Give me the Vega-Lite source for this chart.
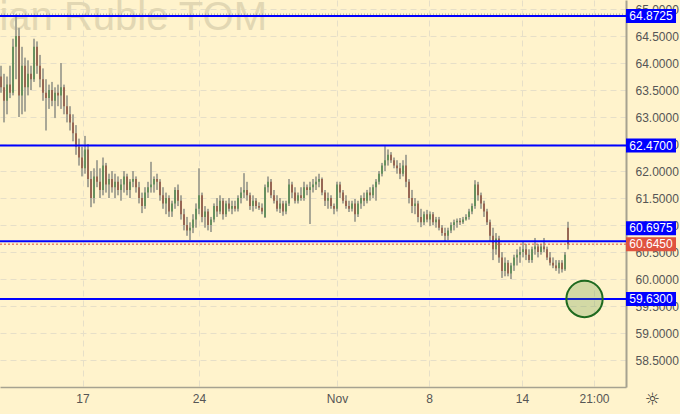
{
"$schema": "https://vega.github.io/schema/vega-lite/v6.json",
"width": 626, "height": 387,
"autosize": {"type": "none"},
"padding": {"left": 0, "top": 0, "right": 54, "bottom": 27},
"background": "#fff3cc",
"config": {
"view": {"stroke": null, "fill": "#fff3cc"},
"font": "Liberation Sans Narrow, Liberation Sans, sans-serif",
"axis": {"labelOverlap": false, "labelFlush": false, "grid": true, "gridColor": "#e6dfc8", "gridDash": [6, 4], "ticks": false, "domainColor": "#a6a290", "labelColor": "#555555", "labelFontSize": 12},
"axisX": {"domainWidth": 1.5, "labelPadding": 6},
"axisY": {"domainWidth": 2, "labelPadding": 9, "labelBaseline": "middle"}
},
"datasets": {
"bars": [
{"i":0,"o":63.75,"h":63.95,"l":63.45,"c":63.55},
{"i":1,"o":63.55,"h":63.8,"l":62.9,"c":63.3},
{"i":2,"o":63.3,"h":63.75,"l":63.05,"c":63.6},
{"i":3,"o":63.6,"h":63.95,"l":63.35,"c":63.45},
{"i":4,"o":63.45,"h":64.45,"l":63.4,"c":64.3},
{"i":5,"o":64.3,"h":64.9,"l":63.7,"c":64.5},
{"i":6,"o":64.5,"h":64.65,"l":63.0,"c":63.4},
{"i":7,"o":63.4,"h":64.3,"l":63.05,"c":63.95},
{"i":8,"o":63.95,"h":64.1,"l":63.1,"c":63.55},
{"i":9,"o":63.55,"h":64.05,"l":63.4,"c":63.8},
{"i":10,"o":63.8,"h":63.95,"l":63.5,"c":63.7},
{"i":11,"o":63.7,"h":64.45,"l":63.65,"c":64.3},
{"i":12,"o":64.3,"h":64.4,"l":63.8,"c":63.95},
{"i":13,"o":63.95,"h":64.15,"l":63.55,"c":63.7},
{"i":14,"o":63.7,"h":63.9,"l":63.3,"c":63.45},
{"i":15,"o":63.45,"h":63.7,"l":62.75,"c":63.35},
{"i":16,"o":63.35,"h":63.6,"l":63.15,"c":63.5},
{"i":17,"o":63.5,"h":63.65,"l":63.2,"c":63.3},
{"i":18,"o":63.3,"h":63.55,"l":62.98,"c":63.45},
{"i":19,"o":63.45,"h":63.6,"l":63.2,"c":63.4},
{"i":20,"o":63.4,"h":64.0,"l":63.15,"c":63.55},
{"i":21,"o":63.55,"h":63.6,"l":63.05,"c":63.2},
{"i":22,"o":63.2,"h":63.4,"l":62.9,"c":63.05},
{"i":23,"o":63.05,"h":63.2,"l":62.75,"c":62.9},
{"i":24,"o":62.9,"h":63.05,"l":62.55,"c":62.7},
{"i":25,"o":62.7,"h":62.85,"l":62.3,"c":62.45},
{"i":26,"o":62.45,"h":62.6,"l":62.1,"c":62.25},
{"i":27,"o":62.25,"h":62.45,"l":61.9,"c":62.05},
{"i":28,"o":62.05,"h":62.65,"l":61.95,"c":62.4},
{"i":29,"o":62.4,"h":62.5,"l":61.7,"c":61.85},
{"i":30,"o":61.85,"h":62.0,"l":61.33,"c":61.5},
{"i":31,"o":61.5,"h":62.05,"l":61.4,"c":61.9},
{"i":32,"o":61.9,"h":62.2,"l":61.7,"c":61.8},
{"i":33,"o":61.8,"h":62.05,"l":61.5,"c":61.65},
{"i":34,"o":61.65,"h":62.25,"l":61.55,"c":62.1},
{"i":35,"o":62.1,"h":62.15,"l":61.6,"c":61.75},
{"i":36,"o":61.75,"h":61.95,"l":61.5,"c":61.85},
{"i":37,"o":61.85,"h":62.0,"l":61.6,"c":61.7},
{"i":38,"o":61.7,"h":61.95,"l":61.5,"c":61.8},
{"i":39,"o":61.8,"h":61.9,"l":61.55,"c":61.65},
{"i":40,"o":61.65,"h":61.85,"l":61.45,"c":61.75},
{"i":41,"o":61.75,"h":62.0,"l":61.6,"c":61.9},
{"i":42,"o":61.9,"h":61.95,"l":61.55,"c":61.65},
{"i":43,"o":61.65,"h":61.85,"l":61.5,"c":61.8},
{"i":44,"o":61.8,"h":62.0,"l":61.7,"c":61.85},
{"i":45,"o":61.85,"h":61.9,"l":61.6,"c":61.7},
{"i":46,"o":61.7,"h":61.8,"l":61.4,"c":61.5},
{"i":47,"o":61.5,"h":61.6,"l":61.22,"c":61.35},
{"i":48,"o":61.35,"h":61.7,"l":61.3,"c":61.6},
{"i":49,"o":61.6,"h":61.8,"l":61.5,"c":61.7},
{"i":50,"o":61.7,"h":62.17,"l":61.6,"c":61.75},
{"i":51,"o":61.75,"h":61.9,"l":61.6,"c":61.85},
{"i":52,"o":61.85,"h":61.95,"l":61.65,"c":61.8},
{"i":53,"o":61.8,"h":61.85,"l":61.45,"c":61.55},
{"i":54,"o":61.55,"h":61.7,"l":61.3,"c":61.4},
{"i":55,"o":61.4,"h":61.6,"l":61.2,"c":61.5},
{"i":56,"o":61.5,"h":61.55,"l":61.15,"c":61.25},
{"i":57,"o":61.25,"h":61.45,"l":61.15,"c":61.4},
{"i":58,"o":61.4,"h":61.7,"l":61.3,"c":61.65},
{"i":59,"o":61.65,"h":61.75,"l":61.35,"c":61.45},
{"i":60,"o":61.45,"h":61.55,"l":61.1,"c":61.2},
{"i":61,"o":61.2,"h":61.3,"l":60.9,"c":61.0},
{"i":62,"o":61.0,"h":61.15,"l":60.8,"c":60.9},
{"i":63,"o":60.9,"h":61.05,"l":60.72,"c":60.95},
{"i":64,"o":60.95,"h":61.2,"l":60.85,"c":61.1},
{"i":65,"o":61.1,"h":61.4,"l":60.95,"c":61.3},
{"i":66,"o":61.3,"h":62.05,"l":61.2,"c":61.55},
{"i":67,"o":61.55,"h":61.6,"l":61.05,"c":61.15},
{"i":68,"o":61.15,"h":61.35,"l":60.95,"c":61.25},
{"i":69,"o":61.25,"h":61.3,"l":60.9,"c":61.0},
{"i":70,"o":61.0,"h":61.15,"l":60.87,"c":61.1},
{"i":71,"o":61.1,"h":61.4,"l":61.05,"c":61.35},
{"i":72,"o":61.35,"h":61.5,"l":61.15,"c":61.25},
{"i":73,"o":61.25,"h":61.55,"l":61.2,"c":61.45},
{"i":74,"o":61.45,"h":61.5,"l":61.1,"c":61.2},
{"i":75,"o":61.2,"h":61.45,"l":61.15,"c":61.4},
{"i":76,"o":61.4,"h":61.5,"l":61.25,"c":61.3},
{"i":77,"o":61.3,"h":61.45,"l":61.2,"c":61.35},
{"i":78,"o":61.35,"h":61.45,"l":61.25,"c":61.3},
{"i":79,"o":61.3,"h":61.55,"l":61.25,"c":61.5},
{"i":80,"o":61.5,"h":61.7,"l":61.4,"c":61.6},
{"i":81,"o":61.6,"h":61.96,"l":61.5,"c":61.65},
{"i":82,"o":61.65,"h":61.8,"l":61.45,"c":61.55},
{"i":83,"o":61.55,"h":61.6,"l":61.28,"c":61.35},
{"i":84,"o":61.35,"h":61.55,"l":61.25,"c":61.45},
{"i":85,"o":61.45,"h":61.5,"l":61.3,"c":61.35},
{"i":86,"o":61.35,"h":61.42,"l":61.28,"c":61.32},
{"i":87,"o":61.32,"h":61.4,"l":61.2,"c":61.25},
{"i":88,"o":61.15,"h":61.75,"l":61.13,"c":61.7},
{"i":89,"o":61.7,"h":61.9,"l":61.6,"c":61.8},
{"i":90,"o":61.8,"h":61.85,"l":61.5,"c":61.55},
{"i":91,"o":61.55,"h":61.65,"l":61.4,"c":61.45},
{"i":92,"o":61.45,"h":61.55,"l":61.25,"c":61.3},
{"i":93,"o":61.3,"h":61.5,"l":61.22,"c":61.4},
{"i":94,"o":61.4,"h":61.45,"l":61.17,"c":61.25},
{"i":95,"o":61.25,"h":61.45,"l":61.2,"c":61.4},
{"i":96,"o":61.4,"h":61.85,"l":61.35,"c":61.75},
{"i":97,"o":61.75,"h":61.8,"l":61.5,"c":61.6},
{"i":98,"o":61.6,"h":61.7,"l":61.4,"c":61.45},
{"i":99,"o":61.45,"h":61.6,"l":61.4,"c":61.55},
{"i":100,"o":61.55,"h":61.7,"l":61.45,"c":61.5},
{"i":101,"o":61.5,"h":61.8,"l":61.45,"c":61.7},
{"i":102,"o":61.7,"h":61.75,"l":61.55,"c":61.65},
{"i":103,"o":61.65,"h":61.8,"l":61.02,"c":61.7},
{"i":104,"o":61.7,"h":61.85,"l":61.6,"c":61.75},
{"i":105,"o":61.75,"h":61.9,"l":61.65,"c":61.8},
{"i":106,"o":61.8,"h":61.95,"l":61.7,"c":61.85},
{"i":107,"o":61.85,"h":61.88,"l":61.55,"c":61.6},
{"i":108,"o":61.6,"h":61.65,"l":61.35,"c":61.45},
{"i":109,"o":61.45,"h":61.6,"l":61.3,"c":61.5},
{"i":110,"o":61.5,"h":61.55,"l":61.3,"c":61.35},
{"i":111,"o":61.35,"h":61.4,"l":61.2,"c":61.3},
{"i":112,"o":61.3,"h":61.8,"l":61.25,"c":61.75},
{"i":113,"o":61.75,"h":61.8,"l":61.5,"c":61.6},
{"i":114,"o":61.6,"h":61.65,"l":61.4,"c":61.45},
{"i":115,"o":61.45,"h":61.55,"l":61.3,"c":61.35},
{"i":116,"o":61.35,"h":61.45,"l":61.24,"c":61.3},
{"i":117,"o":61.3,"h":61.45,"l":61.25,"c":61.4},
{"i":118,"o":61.4,"h":61.48,"l":61.06,"c":61.2},
{"i":119,"o":61.2,"h":61.45,"l":61.15,"c":61.4},
{"i":120,"o":61.4,"h":61.55,"l":61.3,"c":61.5},
{"i":121,"o":61.5,"h":61.6,"l":61.35,"c":61.45},
{"i":122,"o":61.45,"h":61.65,"l":61.4,"c":61.6},
{"i":123,"o":61.6,"h":61.7,"l":61.45,"c":61.55},
{"i":124,"o":61.55,"h":61.75,"l":61.5,"c":61.7},
{"i":125,"o":61.7,"h":61.85,"l":61.45,"c":61.8},
{"i":126,"o":61.8,"h":62.0,"l":61.75,"c":61.95},
{"i":127,"o":61.95,"h":62.15,"l":61.9,"c":62.1},
{"i":128,"o":62.1,"h":62.46,"l":62.0,"c":62.2},
{"i":129,"o":62.2,"h":62.4,"l":62.1,"c":62.3},
{"i":130,"o":62.3,"h":62.35,"l":62.15,"c":62.2},
{"i":131,"o":62.2,"h":62.25,"l":62.05,"c":62.1},
{"i":132,"o":62.1,"h":62.2,"l":61.95,"c":62.05},
{"i":133,"o":62.05,"h":62.15,"l":61.85,"c":61.95},
{"i":134,"o":61.95,"h":62.2,"l":61.9,"c":62.1},
{"i":135,"o":62.1,"h":62.3,"l":61.7,"c":61.8},
{"i":136,"o":61.8,"h":61.85,"l":61.4,"c":61.5},
{"i":137,"o":61.5,"h":61.65,"l":61.22,"c":61.35},
{"i":138,"o":61.35,"h":61.5,"l":61.2,"c":61.4},
{"i":139,"o":61.4,"h":61.45,"l":61.05,"c":61.15},
{"i":140,"o":61.15,"h":61.3,"l":60.96,"c":61.05},
{"i":141,"o":61.05,"h":61.25,"l":61.0,"c":61.2},
{"i":142,"o":61.2,"h":61.28,"l":61.05,"c":61.1},
{"i":143,"o":61.1,"h":61.25,"l":60.98,"c":61.2},
{"i":144,"o":61.2,"h":61.24,"l":61.0,"c":61.05},
{"i":145,"o":61.05,"h":61.15,"l":60.95,"c":61.1},
{"i":146,"o":61.1,"h":61.15,"l":60.9,"c":60.95},
{"i":147,"o":60.95,"h":61.0,"l":60.8,"c":60.85},
{"i":148,"o":60.85,"h":60.95,"l":60.7,"c":60.8},
{"i":149,"o":60.8,"h":60.95,"l":60.72,"c":60.9},
{"i":150,"o":60.9,"h":61.05,"l":60.85,"c":61.0},
{"i":151,"o":61.0,"h":61.1,"l":60.9,"c":61.05},
{"i":152,"o":61.05,"h":61.12,"l":60.95,"c":61.08},
{"i":153,"o":61.08,"h":61.13,"l":61.0,"c":61.05},
{"i":154,"o":61.05,"h":61.15,"l":61.02,"c":61.1},
{"i":155,"o":61.1,"h":61.2,"l":61.08,"c":61.15},
{"i":156,"o":61.15,"h":61.3,"l":61.1,"c":61.25},
{"i":157,"o":61.25,"h":61.4,"l":61.2,"c":61.35},
{"i":158,"o":61.35,"h":61.83,"l":61.3,"c":61.75},
{"i":159,"o":61.75,"h":61.8,"l":61.45,"c":61.55},
{"i":160,"o":61.55,"h":61.6,"l":61.3,"c":61.4},
{"i":161,"o":61.4,"h":61.45,"l":61.15,"c":61.25},
{"i":162,"o":61.25,"h":61.3,"l":61.0,"c":61.05},
{"i":163,"o":61.05,"h":61.1,"l":60.7,"c":60.8},
{"i":164,"o":60.8,"h":60.95,"l":60.35,"c":60.55},
{"i":165,"o":60.55,"h":60.85,"l":60.45,"c":60.75},
{"i":166,"o":60.75,"h":60.8,"l":60.3,"c":60.4},
{"i":167,"o":60.4,"h":60.5,"l":60.02,"c":60.15},
{"i":168,"o":60.15,"h":60.4,"l":60.05,"c":60.3},
{"i":169,"o":60.3,"h":60.35,"l":60.05,"c":60.1},
{"i":170,"o":60.1,"h":60.3,"l":60.0,"c":60.25},
{"i":171,"o":60.25,"h":60.45,"l":60.15,"c":60.4},
{"i":172,"o":60.4,"h":60.55,"l":60.25,"c":60.45},
{"i":173,"o":60.45,"h":60.6,"l":60.3,"c":60.5},
{"i":174,"o":60.5,"h":60.7,"l":60.4,"c":60.55},
{"i":175,"o":60.55,"h":60.65,"l":60.35,"c":60.45},
{"i":176,"o":60.45,"h":60.55,"l":60.3,"c":60.35},
{"i":177,"o":60.35,"h":60.6,"l":60.3,"c":60.55},
{"i":178,"o":60.55,"h":60.76,"l":60.45,"c":60.6},
{"i":179,"o":60.6,"h":60.65,"l":60.4,"c":60.5},
{"i":180,"o":60.5,"h":60.65,"l":60.45,"c":60.6},
{"i":181,"o":60.6,"h":60.76,"l":60.5,"c":60.55},
{"i":182,"o":60.55,"h":60.6,"l":60.35,"c":60.4},
{"i":183,"o":60.4,"h":60.5,"l":60.25,"c":60.3},
{"i":184,"o":60.3,"h":60.4,"l":60.2,"c":60.25},
{"i":185,"o":60.25,"h":60.35,"l":60.15,"c":60.2},
{"i":186,"o":60.2,"h":60.35,"l":60.1,"c":60.3},
{"i":187,"o":60.3,"h":60.35,"l":60.12,"c":60.18},
{"i":188,"o":60.18,"h":60.5,"l":60.15,"c":60.45},
{"i":189,"o":60.95,"h":61.06,"l":60.55,"c":60.645}
],
"levels": [{"p":64.8725},{"p":62.47},{"p":60.6975},{"p":59.63}],
"tags": [
{"p":64.8725,"t":"64.8725","k":"level"},
{"p":62.47,"t":"62.4700","k":"level"},
{"p":60.6975,"t":"60.6975","k":"level"},
{"p":60.645,"t":"60.6450","k":"last"},
{"p":59.63,"t":"59.6300","k":"level"}
]
},
"layer": [
{
"data": {"values": [{"t": "Dollar / Russian Ruble TOM", "i": 88.67, "p": 64.61}]},
"mark": {"type": "text", "align": "right", "baseline": "alphabetic", "fontSize": 40, "color": "#e2d7b3", "clip": true},
"encoding": {
"x": {"field": "i", "type": "quantitative", "scale": {"domain": [-0.3333, 208.3333], "nice": false, "zero": false},
"axis": {"orient": "bottom", "values": [27.17, 66, 112, 142.67, 173.67, 197.67], "tickCount": 20,
"labelExpr": "datum.value < 40 ? '17' : datum.value < 80 ? '24' : datum.value < 120 ? 'Nov' : datum.value < 150 ? '8' : datum.value < 180 ? '14' : '21:00'",
"labelOverlap": false,
"title": "☼", "titleX": 652, "titleY": 12, "titleFontSize": 17, "titleFontWeight": "normal", "titleColor": "#333333",
"titleBaseline": "middle", "titleAlign": "center", "titleFont": "DejaVu Sans"}},
"y": {"field": "p", "type": "quantitative", "scale": {"domain": [58, 65.1667], "nice": false, "zero": false},
"axis": {"orient": "right", "values": [58.5, 59, 59.5, 60, 60.5, 61, 61.5, 62, 62.5, 63, 63.5, 64, 64.5, 65], "tickCount": 30,
"format": ".4f", "labelOverlap": false, "title": null}},
"text": {"field": "t"}
}
},
{
"data": {"name": "bars"},
"mark": {"type": "rule", "color": "#a9a796", "strokeWidth": 2},
"encoding": {
"x": {"field": "i", "type": "quantitative", "scale": {"domain": [-0.3333, 208.3333], "nice": false, "zero": false}},
"y": {"field": "l", "type": "quantitative", "scale": {"domain": [58, 65.1667], "nice": false, "zero": false}},
"y2": {"field": "h"}
}
},
{
"data": {"name": "bars"},
"mark": {"type": "rule", "strokeWidth": 1.2},
"encoding": {
"x": {"field": "i", "type": "quantitative", "scale": {"domain": [-0.3333, 208.3333], "nice": false, "zero": false}},
"y": {"field": "o", "type": "quantitative", "scale": {"domain": [58, 65.1667], "nice": false, "zero": false}},
"y2": {"field": "c"},
"color": {"condition": {"test": "datum.c >= datum.o", "value": "#3c823c"}, "value": "#8c3c28"}
}
},
{
"data": {"values": [{"p": 64.905}]},
"mark": {"type": "rule", "color": "#9a988a", "strokeWidth": 1, "strokeDash": [1, 2]},
"encoding": {"y": {"field": "p", "type": "quantitative", "scale": {"domain": [58, 65.1667], "nice": false, "zero": false}}}
},
{
"data": {"name": "levels"},
"mark": {"type": "rule", "color": "#0000ff", "strokeWidth": 2},
"encoding": {"y": {"field": "p", "type": "quantitative", "scale": {"domain": [58, 65.1667], "nice": false, "zero": false}}}
},
{
"data": {"values": [{"p": 60.645}]},
"mark": {"type": "rule", "color": "#e0533f", "strokeWidth": 1, "strokeDash": [2, 2]},
"encoding": {"y": {"field": "p", "type": "quantitative", "scale": {"domain": [58, 65.1667], "nice": false, "zero": false}}}
},
{
"data": {"values": [{"i": 194.5, "p": 59.63}]},
"mark": {"type": "point", "shape": "circle", "size": 1320, "filled": true, "fill": "#4f8a2e", "fillOpacity": 0.25, "stroke": "#1f6a1f", "strokeWidth": 2, "opacity": 1},
"encoding": {
"x": {"field": "i", "type": "quantitative", "scale": {"domain": [-0.3333, 208.3333], "nice": false, "zero": false}},
"y": {"field": "p", "type": "quantitative", "scale": {"domain": [58, 65.1667], "nice": false, "zero": false}}
}
},
{
"data": {"name": "tags"},
"transform": [{"filter": "datum.t != '60.6975'"}],
"mark": {"type": "point", "shape": "M-1,-0.28L1,-0.28L1,0.28L-1,0.28Z", "size": 2500, "filled": true, "opacity": 1, "strokeWidth": 0},
"encoding": {
"x": {"datum": 216.67, "type": "quantitative", "scale": {"domain": [-0.3333, 208.3333], "nice": false, "zero": false}},
"y": {"field": "p", "type": "quantitative", "scale": {"domain": [58, 65.1667], "nice": false, "zero": false}},
"color": {"field": "k", "type": "nominal", "scale": {"domain": ["level", "last"], "range": ["#0000ff", "#e0533f"]}, "legend": null}
}
},
{
"data": {"name": "tags"},
"transform": [{"filter": "datum.t == '60.6975'"}],
"mark": {"type": "point", "shape": "M-1,-0.28L1,-0.28L1,0.28L-1,0.28Z", "size": 2500, "filled": true, "opacity": 1, "strokeWidth": 0, "yOffset": -13},
"encoding": {
"x": {"datum": 216.67, "type": "quantitative", "scale": {"domain": [-0.3333, 208.3333], "nice": false, "zero": false}},
"y": {"field": "p", "type": "quantitative", "scale": {"domain": [58, 65.1667], "nice": false, "zero": false}},
"color": {"field": "k", "type": "nominal", "scale": {"domain": ["level", "last"], "range": ["#0000ff", "#e0533f"]}, "legend": null}
}
},
{
"data": {"name": "tags"},
"transform": [{"filter": "datum.t != '60.6975'"}],
"mark": {"type": "text", "color": "#ffffff", "fontSize": 12, "align": "center", "baseline": "middle"},
"encoding": {
"x": {"datum": 216.67, "type": "quantitative", "scale": {"domain": [-0.3333, 208.3333], "nice": false, "zero": false}},
"y": {"field": "p", "type": "quantitative", "scale": {"domain": [58, 65.1667], "nice": false, "zero": false}},
"text": {"field": "t"}
}
},
{
"data": {"name": "tags"},
"transform": [{"filter": "datum.t == '60.6975'"}],
"mark": {"type": "text", "color": "#ffffff", "fontSize": 12, "align": "center", "baseline": "middle", "yOffset": -13},
"encoding": {
"x": {"datum": 216.67, "type": "quantitative", "scale": {"domain": [-0.3333, 208.3333], "nice": false, "zero": false}},
"y": {"field": "p", "type": "quantitative", "scale": {"domain": [58, 65.1667], "nice": false, "zero": false}},
"text": {"field": "t"}
}
}
]
}
